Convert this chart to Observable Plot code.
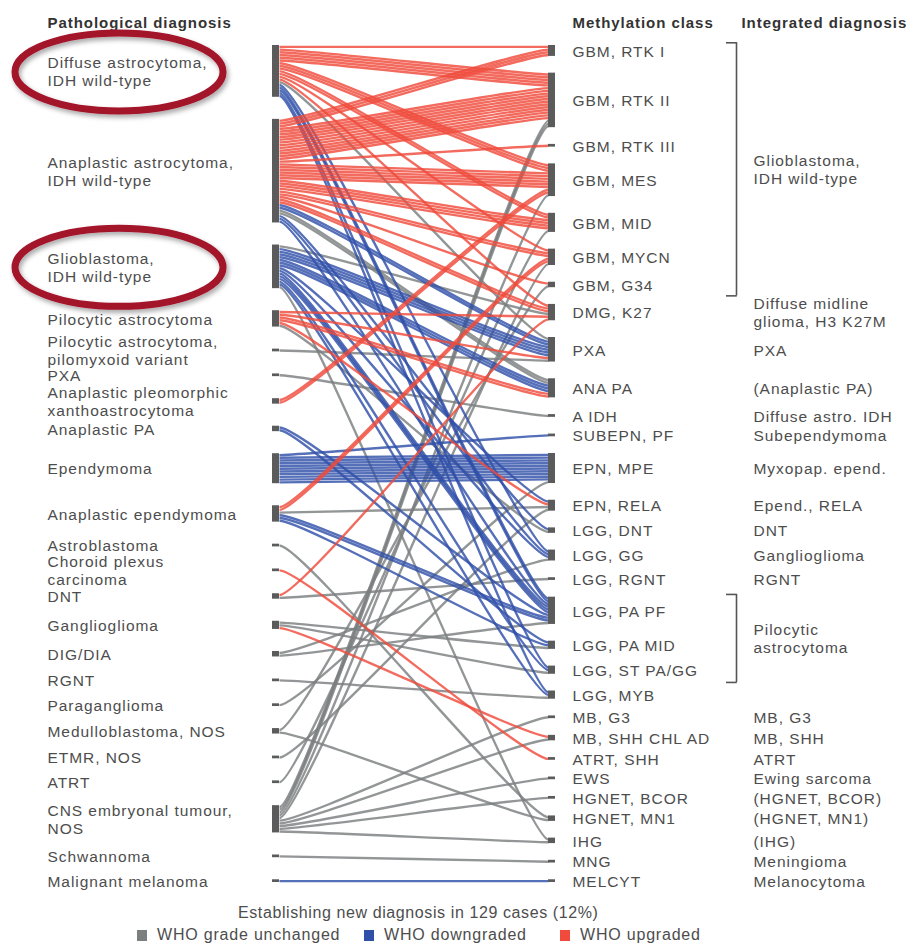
<!DOCTYPE html>
<html>
<head>
<meta charset="utf-8">
<script src="https://cdn.jsdelivr.net/npm/d3@7"></script>
<script src="https://cdn.jsdelivr.net/npm/@observablehq/plot@0.6"></script>
<style>
  body { margin: 0; background: #fff; }
  #chart { position: relative; width: 911px; font-family: "Liberation Sans", Arial, sans-serif; color: #4d4d4d; }
  #chart svg { display: block; }
  .caption { height: 24px; line-height: 26px; font-size: 16px; letter-spacing: 0.6px; padding-left: 238px; }
  .legend { position: relative; height: 21px; font-size: 16px; letter-spacing: 0.8px; }
  .legend .item { position: absolute; top: 1px; line-height: 20px; white-space: nowrap; }
  .legend .sw { display: inline-block; width: 10px; height: 11px; margin-right: 10px; vertical-align: -1px; }
</style>
</head>
<body>
<div id="chart"></div>
<script>
// Pathological (histological) diagnoses, top to bottom
const pathologicalCodes = ["DA", "AA", "GBM", "PA", "PMA", "PXA", "APXA", "APA", "EPN", "AEPN", "AB", "CPC",
  "DNT", "GG", "DIG", "RGNT", "PG", "MB", "ETMR", "ATRT", "CNSE", "SCHW", "MM"];
const pathologicalLabels = [
  "Diffuse astrocytoma,\nIDH wild-type", "Anaplastic astrocytoma,\nIDH wild-type", "Glioblastoma,\nIDH wild-type",
  "Pilocytic astrocytoma", "Pilocytic astrocytoma,\npilomyxoid variant", "PXA",
  "Anaplastic pleomorphic\nxanthoastrocytoma", "Anaplastic PA", "Ependymoma", "Anaplastic ependymoma",
  "Astroblastoma", "Choroid plexus\ncarcinoma", "DNT", "Ganglioglioma", "DIG/DIA", "RGNT", "Paraganglioma",
  "Medulloblastoma, NOS", "ETMR, NOS", "ATRT", "CNS embryonal tumour,\nNOS", "Schwannoma", "Malignant melanoma"];

// Methylation classes, top to bottom, with the integrated diagnosis shown beside each
const methylationClasses = ["GBM, RTK I", "GBM, RTK II", "GBM, RTK III", "GBM, MES", "GBM, MID", "GBM, MYCN",
  "GBM, G34", "DMG, K27", "PXA", "ANA PA", "A IDH", "SUBEPN, PF", "EPN, MPE", "EPN, RELA", "LGG, DNT",
  "LGG, GG", "LGG, RGNT", "LGG, PA PF", "LGG, PA MID", "LGG, ST PA/GG", "LGG, MYB", "MB, G3",
  "MB, SHH CHL AD", "ATRT, SHH", "EWS", "HGNET, BCOR", "HGNET, MN1", "IHG", "MNG", "MELCYT"];
const integratedDiagnoses = ["", "", "", "", "", "", "", "Diffuse midline\nglioma, H3 K27M", "PXA",
  "(Anaplastic PA)", "Diffuse astro. IDH", "Subependymoma", "Myxopap. epend.", "Epend., RELA", "DNT",
  "Ganglioglioma", "RGNT", "", "", "", "", "MB, G3", "MB, SHH", "ATRT", "Ewing sarcoma", "(HGNET, BCOR)",
  "(HGNET, MN1)", "(IHG)", "Meningioma", "Melanocytoma"];
// Integrated diagnoses shared by a run of methylation classes: [label, first class, last class]
const integratedGroups = [
  ["Glioblastoma,\nIDH wild-type", "GBM, RTK I", "GBM, G34"],
  ["Pilocytic\nastrocytoma", "LGG, PA PF", "LGG, ST PA/GG"]
];

const gradeChanges = ["unchanged", "down", "up"];
const gradeLabels = ["WHO grade unchanged", "WHO downgraded", "WHO upgraded"];
const gradePalette = ["#7b7f80", "#2f4fa8", "#ef4a3b"];
const totalCases = 1104;

// Cases with a new diagnosis: [pathological, methylation class, WHO grade change, cases]
const reclassified = [
  ["DA", "GBM, RTK I", "up", 1], ["DA", "GBM, RTK II", "up", 5], ["DA", "GBM, MES", "up", 3],
  ["DA", "GBM, MID", "up", 2], ["DA", "GBM, MYCN", "up", 1], ["DA", "DMG, K27", "up", 1],
  ["DA", "PXA", "unchanged", 1], ["DA", "LGG, GG", "down", 1], ["DA", "LGG, PA PF", "down", 2],
  ["DA", "LGG, ST PA/GG", "down", 1], ["DA", "LGG, MYB", "down", 1],
  ["AA", "GBM, RTK I", "up", 3], ["AA", "GBM, RTK II", "up", 12], ["AA", "GBM, RTK III", "up", 1],
  ["AA", "GBM, MES", "up", 6], ["AA", "GBM, MID", "up", 4], ["AA", "GBM, MYCN", "up", 2],
  ["AA", "GBM, G34", "up", 1], ["AA", "DMG, K27", "up", 2], ["AA", "PXA", "down", 2],
  ["AA", "ANA PA", "unchanged", 2], ["AA", "LGG, DNT", "down", 1], ["AA", "LGG, GG", "down", 1],
  ["AA", "LGG, PA PF", "down", 1],
  ["GBM", "DMG, K27", "unchanged", 1], ["GBM", "PXA", "down", 4], ["GBM", "ANA PA", "down", 3],
  ["GBM", "EPN, RELA", "down", 1], ["GBM", "LGG, GG", "down", 1], ["GBM", "LGG, PA PF", "down", 3],
  ["GBM", "LGG, ST PA/GG", "down", 1], ["GBM", "LGG, MYB", "down", 1], ["GBM", "IHG", "unchanged", 1],
  ["PA", "DMG, K27", "up", 1], ["PA", "PXA", "up", 1], ["PA", "ANA PA", "up", 2],
  ["PA", "EPN, RELA", "up", 1], ["PA", "LGG, DNT", "unchanged", 1],
  ["PMA", "PXA", "unchanged", 1],
  ["PXA", "A IDH", "unchanged", 1],
  ["APXA", "GBM, MES", "up", 2],
  ["APA", "LGG, PA PF", "down", 1], ["APA", "LGG, PA MID", "down", 1],
  ["EPN", "SUBEPN, PF", "down", 1], ["EPN", "EPN, MPE", "down", 10],
  ["AEPN", "GBM, MYCN", "up", 2], ["AEPN", "EPN, RELA", "unchanged", 1],
  ["AEPN", "LGG, PA PF", "down", 2], ["AEPN", "LGG, PA MID", "down", 1],
  ["AB", "HGNET, MN1", "unchanged", 1],
  ["CPC", "ATRT, SHH", "up", 1],
  ["DNT", "DMG, K27", "up", 1], ["DNT", "LGG, RGNT", "unchanged", 1],
  ["GG", "LGG, PA MID", "unchanged", 1], ["GG", "LGG, ST PA/GG", "unchanged", 1], ["GG", "MB, SHH CHL AD", "up", 1],
  ["DIG", "LGG, GG", "unchanged", 1], ["DIG", "LGG, PA PF", "unchanged", 1],
  ["RGNT", "LGG, MYB", "unchanged", 1],
  ["PG", "EPN, MPE", "unchanged", 1],
  ["MB", "GBM, G34", "unchanged", 1], ["MB", "HGNET, MN1", "unchanged", 1],
  ["ETMR", "EPN, RELA", "unchanged", 1],
  ["ATRT", "GBM, MID", "unchanged", 1],
  ["CNSE", "GBM, RTK II", "unchanged", 3], ["CNSE", "GBM, MES", "unchanged", 1], ["CNSE", "GBM, MYCN", "unchanged", 1],
  ["CNSE", "MB, G3", "unchanged", 1], ["CNSE", "MB, SHH CHL AD", "unchanged", 1],
  ["CNSE", "EWS", "unchanged", 1], ["CNSE", "HGNET, BCOR", "unchanged", 1], ["CNSE", "IHG", "unchanged", 1],
  ["SCHW", "MNG", "unchanged", 1],
  ["MM", "MELCYT", "down", 1]
];

// One record per case
const cases = reclassified.flatMap(([from, to, change, n]) =>
  d3.range(n).map(() => ({from, to, change})));

// Stack each column: one unit per case, equal gaps between nodes
const SPAN = 307;
function stackColumn(names, key, otherKey, otherOrder) {
  const gap = (SPAN - cases.length) / (names.length - 1);
  let y = 0;
  return names.map((name, index) => {
    const members = cases.filter(c => c[key] === name)
      .sort((a, b) => otherOrder.indexOf(a[otherKey]) - otherOrder.indexOf(b[otherKey]));
    members.forEach((c, i) => { c[key + "Y"] = y + i + 0.5; });
    const node = {name, index, y0: y, y1: y + members.length, mid: y + members.length / 2};
    y += members.length + gap;
    return node;
  });
}
const leftNodes = stackColumn(pathologicalCodes, "from", "to", methylationClasses);
const rightNodes = stackColumn(methylationClasses, "to", "from", pathologicalCodes);

// Grey first, then blue, red on top
const drawOrder = d3.sort(cases, c => gradeChanges.indexOf(c.change));

// Links leave and enter the columns horizontally, straight in between
function easedEnds(context) {
  let pts;
  return {
    areaStart() {}, areaEnd() {},
    lineStart() { pts = []; },
    point(x, y) { pts.push([+x, +y]); },
    lineEnd() {
      const [[x0, y0], [x1, y1]] = pts;
      const h = (x1 - x0) * 0.09;
      context.moveTo(x0, y0);
      context.bezierCurveTo(x0 + h, y0, x1 - h, y1, x1, y1);
    }
  };
}

const byName = new Map(rightNodes.map(d => [d.name, d]));
const brackets = integratedGroups.map(([label, first, last]) => {
  const top = byName.get(first).y0 - 1;
  const bottom = byName.get(last).y1 + 3;
  return {label, top, bottom, mid: (top + bottom) / 2};
});
const bracketEnds = brackets.flatMap(b => [{y: b.top}, {y: b.bottom}]);
const integratedRows = rightNodes.filter(d => integratedDiagnoses[d.index] !== "");

const textStyle = {fill: "#4d4d4d", lineHeight: 1.16, fontSize: 15.5};
const headerStyle = {fill: "#333", fontWeight: "bold", fontSize: 15, frameAnchor: "top", dy: 17, textAnchor: "start"};

const plot = Plot.plot({
  width: 911,
  height: 900,
  margin: 0,
  x: {domain: [0, 1], range: [279, 548], axis: null},
  y: {domain: [0, SPAN], range: [45, 882], axis: null},
  color: {domain: gradeChanges, range: gradePalette},
  style: {fontFamily: "'Liberation Sans', Arial, sans-serif", background: "#fff", letterSpacing: "0.95px"},
  marks: [
    Plot.link(drawOrder, {x1: 0, x2: 1, y1: "fromY", y2: "toY", stroke: "change",
      strokeWidth: 2.4, strokeOpacity: 0.82, curve: easedEnds}),
    Plot.rect(leftNodes, {x1: 0, x2: 0, y1: "y0", y2: "y1", insetLeft: -7, fill: "#5b5b5b"}),
    Plot.rect(rightNodes, {x1: 1, x2: 1, y1: "y0", y2: "y1", insetRight: -7, fill: "#5b5b5b"}),
    // column headers
    Plot.text(["Pathological diagnosis"], {x: 0, text: d => d, dx: -232, ...headerStyle}),
    Plot.text(["Methylation class"], {x: 1, text: d => d, dx: 24, ...headerStyle}),
    Plot.text(["Integrated diagnosis"], {x: 1, text: d => d, dx: 193, ...headerStyle}),
    // node labels
    Plot.text(leftNodes, {x: 0, y: "mid", text: d => pathologicalLabels[d.index], dx: -232, textAnchor: "start", ...textStyle}),
    Plot.text(rightNodes, {x: 1, y: "mid", text: "name", dx: 24, textAnchor: "start", ...textStyle}),
    Plot.text(integratedRows, {x: 1, y: "mid", text: d => integratedDiagnoses[d.index], dx: 205, textAnchor: "start", ...textStyle}),
    // grouped integrated diagnoses
    Plot.ruleX(brackets, {x: 1, y1: "top", y2: "bottom", dx: 188, stroke: "#555", strokeWidth: 1.6}),
    Plot.ruleY(bracketEnds, {x1: 1, x2: 1, y: "y", insetLeft: 178, insetRight: -188.8, stroke: "#555", strokeWidth: 1.6}),
    Plot.text(brackets, {x: 1, y: "mid", text: "label", dx: 205, textAnchor: "start", ...textStyle})
  ]
});

// Highlight rings round two of the pathological diagnoses
const yScale = plot.scale("y");
const svg = d3.select(plot);
svg.append("defs").append("filter").attr("id", "ring-shadow")
  .attr("x", "-20%").attr("y", "-30%").attr("width", "140%").attr("height", "160%")
  .append("feDropShadow").attr("dx", 2).attr("dy", 3).attr("stdDeviation", 2.5)
  .attr("flood-color", "#000").attr("flood-opacity", 0.35);
const highlighted = ["DA", "GBM"];
svg.append("g").selectAll("ellipse")
  .data(leftNodes.filter(d => highlighted.includes(d.name)))
  .join("ellipse")
  .attr("cx", 119)
  .attr("cy", d => yScale.apply(d.mid) + 1)
  .attr("rx", 104).attr("ry", 39)
  .attr("fill", "none").attr("stroke", "#a3122a").attr("stroke-width", 7)
  .attr("filter", "url(#ring-shadow)");

const chart = document.getElementById("chart");
chart.append(plot);

const caption = document.createElement("div");
caption.className = "caption";
caption.textContent = `Establishing new diagnosis in ${cases.length} cases (${Math.round(cases.length / totalCases * 100)}%)`;
chart.append(caption);

const legend = document.createElement("div");
legend.className = "legend";
const itemLefts = [137, 364, 560];
gradeChanges.forEach((g, i) => {
  const item = document.createElement("span");
  item.className = "item";
  item.style.left = itemLefts[i] + "px";
  const sw = document.createElement("span");
  sw.className = "sw";
  sw.style.background = gradePalette[i];
  item.append(sw, gradeLabels[i]);
  legend.append(item);
});
chart.append(legend);
</script>
</body>
</html>
